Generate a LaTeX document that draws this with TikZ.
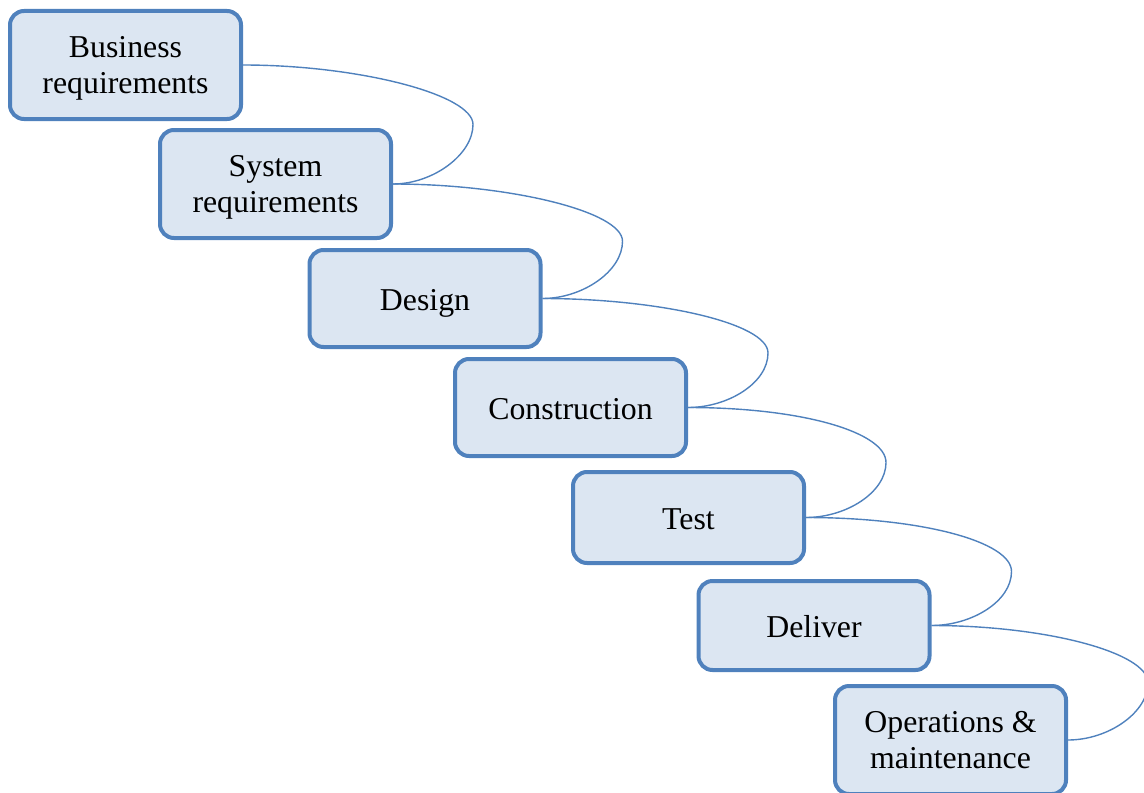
\documentclass[tikz,border=0pt]{standalone}
\usepackage{fontspec}
\setmainfont{Liberation Serif}
\usetikzlibrary{calc}
\definecolor{phaseblue}{RGB}{79,129,189}
\definecolor{phasefill}{RGB}{220,230,242}

\begin{document}
\begin{tikzpicture}[x=0.5pt, y=-0.5pt,
    phase/.style={draw=phaseblue, fill=phasefill, line width=2pt, rounded corners=7pt,
        minimum width=115.5pt, align=center, inner sep=2pt,
        font=\fontsize{15.9pt}{18pt}\selectfont,
        execute at begin node={\rule{0pt}{15pt}},
        execute at end node={\rule[-3pt]{0pt}{3pt}}},
    twoline/.style={phase, minimum height=54pt, text depth=-6pt},
    link/.style={draw=phaseblue, line width=0.7pt}]
    \useasboundingbox (0,0) rectangle (1144,792);
    \node[twoline]                      (busreq)    at (125.5,65)  {Business\\requirements};
    \node[twoline]                      (sysreq)    at (275.5,184) {System\\requirements};
    \node[phase, minimum height=48.5pt] (design)    at (425,298.5) {Design};
    \node[phase, minimum height=48.5pt] (construct) at (570.5,407.5) {Construction};
    \node[phase, minimum height=45.5pt] (test)      at (688.5,517.5) {Test};
    \node[phase, minimum height=44.5pt] (deliver)   at (814,625.5) {Deliver};
    \node[twoline]                      (ops)       at (950.5,740) {Operations \&\\maintenance};
    % curved connectors down the stairs
    \foreach \a/\b in {busreq/sysreq, sysreq/design, design/construct,
                       construct/test, test/deliver, deliver/ops} {
        \coordinate (mid) at ($(\a.east)!.5!(\b.east)$);
        \coordinate (tip) at ([xshift=40pt]\b.east);
        \draw[link] (\a.east) .. controls +(115,0) and +(0,-30) .. (tip |- mid)
            .. controls +(0,30) and +(40,0) .. (\b.east);
    }
\end{tikzpicture}
\end{document}
